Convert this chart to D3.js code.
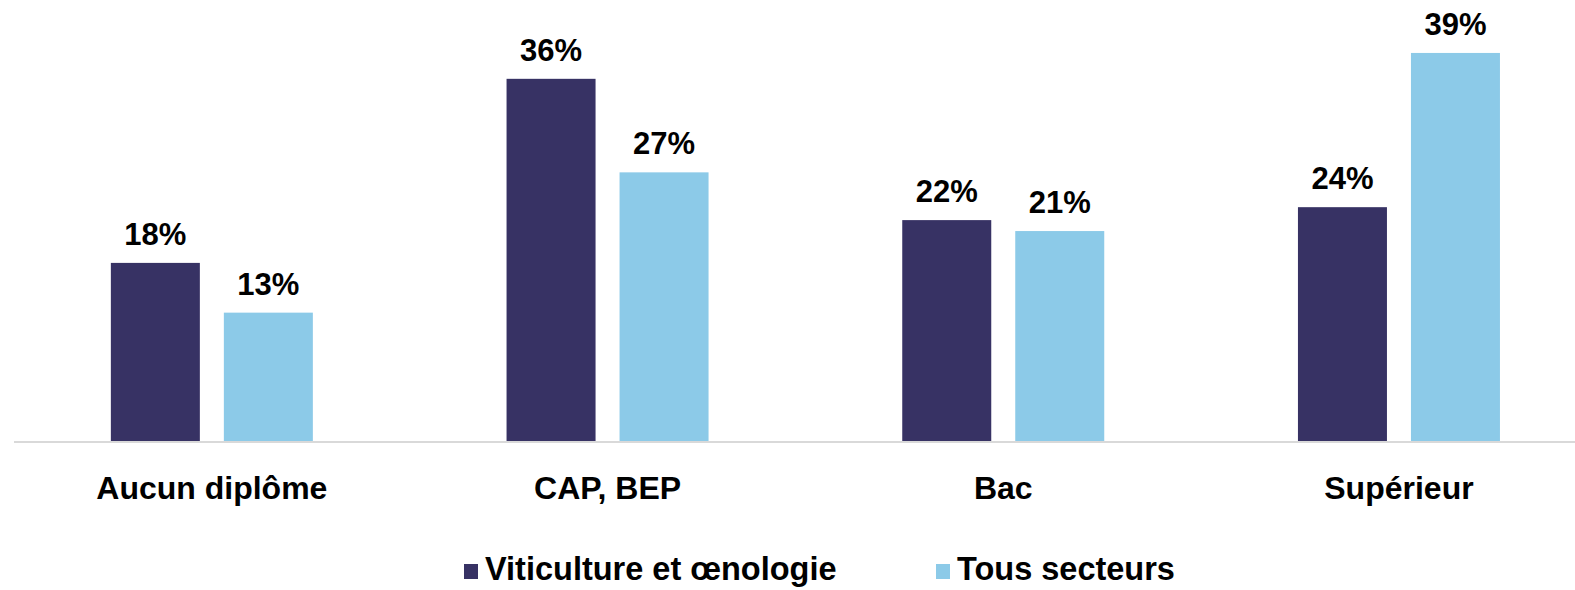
<!DOCTYPE html>
<html>
<head>
<meta charset="utf-8">
<script src="https://cdn.jsdelivr.net/npm/d3@7"></script>
<style>
  body { margin: 0; background: #fff; }
  svg { display: block; font-family: "Liberation Sans", Arial, sans-serif; }
</style>
</head>
<body>
<svg id="chart" width="1575" height="590"></svg>
<script>
const categories = ['Aucun diplôme', 'CAP, BEP', 'Bac', 'Supérieur'];
const seriesNames = ['Viticulture et œnologie', 'Tous secteurs'];
const viticulture = [17.9, 36.4, 22.2, 23.5];
const tousSecteurs = [12.9, 27.0, 21.1, 39.0];
const colors = ['#373264', '#8ccae8'];

const width = 1575;
const height = 590;
const baseY = 441;

const svg = d3.select('#chart');

const values = [viticulture, tousSecteurs];
const rows = categories.map((c, i) => ({
  cat: c,
  vals: seriesNames.map((s, j) => ({key: s, idx: j, v: values[j][i]})),
}));

// one band per category; the chart is wider than the window on the right
const x0 = d3.scaleBand()
    .domain(categories)
    .range([14, 14 + 4 * 395.7]);

const x1 = d3.scaleBand()
    .domain(seriesNames)
    .range([-101, 101])
    .paddingInner(24 / 113);

const y = d3.scaleLinear().domain([0, 40]).range([baseY, baseY - 398]);

// bars
const groups = svg.append('g')
    .selectAll('g')
    .data(rows)
    .join('g')
    .attr('transform', (d) => `translate(${x0(d.cat) + x0.bandwidth() / 2},0)`);

groups.selectAll('rect')
    .data((d) => d.vals)
    .join('rect')
    .attr('x', (d) => x1(d.key))
    .attr('y', (d) => y(d.v))
    .attr('width', x1.bandwidth())
    .attr('height', (d) => y(0) - y(d.v))
    .attr('fill', (d) => colors[d.idx]);

// value labels
groups.selectAll('text')
    .data((d) => d.vals)
    .join('text')
    .attr('x', (d) => x1(d.key) + x1.bandwidth() / 2)
    .attr('y', (d) => y(d.v) - 18)
    .attr('text-anchor', 'middle')
    .style('font-size', '31px')
    .style('font-weight', 'bold')
    .attr('fill', '#000')
    .text((d) => Math.round(d.v) + '%');

// x axis
const xAxis = svg.append('g')
    .attr('transform', `translate(0,${baseY + 1})`)
    .call(d3.axisBottom(x0).tickSize(0).tickPadding(34).tickSizeOuter(0));
xAxis.select('.domain').attr('stroke', '#d9d9d9').attr('stroke-width', 2)
    .attr('d', `M14,0H${width}`);
xAxis.selectAll('text')
    .style('font-size', '32px')
    .style('font-weight', 'bold')
    .style('font-family', '"Liberation Sans", Arial, sans-serif')
    .attr('fill', '#000');

// legend
const legendPos = [464, 936];
const legend = svg.append('g')
    .selectAll('g')
    .data(seriesNames)
    .join('g')
    .attr('transform', (d, i) => `translate(${legendPos[i]},580)`);
legend.append('rect')
    .attr('x', 0).attr('y', -16)
    .attr('width', 14).attr('height', 15)
    .attr('fill', (d, i) => colors[i]);
legend.append('text')
    .attr('x', 21).attr('y', 0)
    .style('font-size', '32.5px')
    .style('font-weight', 'bold')
    .text((d) => d);
</script>
</body>
</html>
